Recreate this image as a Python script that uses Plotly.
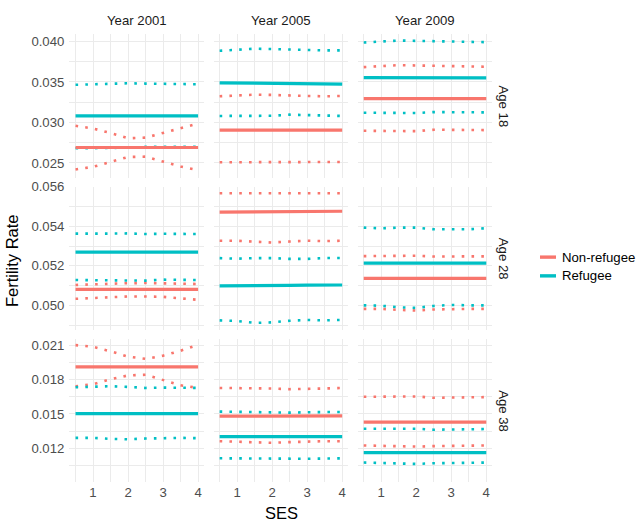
import plotly.graph_objects as go

# ---------------- data ----------------
ses = [0.5, 1.0, 1.5, 2.0, 2.5, 3.0, 3.5, 4.0]
years = ["Year 2001", "Year 2005", "Year 2009"]
ages = ["Age 18", "Age 28", "Age 38"]
groups = ["Non-refugee", "Refugee"]

# each variable: one list per year (2001, 2005, 2009), values at the SES points
a18_non_est = [
    [0.02690, 0.02690, 0.02690, 0.02690, 0.02690, 0.02690, 0.02690, 0.02690],
    [0.02905, 0.02905, 0.02905, 0.02905, 0.02905, 0.02905, 0.02905, 0.02905],
    [0.03294, 0.03294, 0.03294, 0.03294, 0.03294, 0.03294, 0.03294, 0.03294],
]
a18_non_lo = [
    [0.02419, 0.02451, 0.02512, 0.02573, 0.02577, 0.02512, 0.02455, 0.02410],
    [0.02508, 0.02510, 0.02508, 0.02515, 0.02513, 0.02510, 0.02510, 0.02510],
    [0.02897, 0.02895, 0.02890, 0.02892, 0.02910, 0.02906, 0.02906, 0.02905],
]
a18_non_hi = [
    [0.02958, 0.02925, 0.02869, 0.02804, 0.02812, 0.02873, 0.02934, 0.02986],
    [0.03323, 0.03335, 0.03343, 0.03340, 0.03330, 0.03327, 0.03323, 0.03327],
    [0.03684, 0.03692, 0.03708, 0.03704, 0.03700, 0.03688, 0.03686, 0.03688],
]
a18_ref_est = [
    [0.03080, 0.03080, 0.03080, 0.03080, 0.03080, 0.03080, 0.03080, 0.03080],
    [0.03490, 0.03488, 0.03486, 0.03484, 0.03481, 0.03478, 0.03476, 0.03474],
    [0.03554, 0.03554, 0.03553, 0.03552, 0.03552, 0.03551, 0.03550, 0.03550],
]
a18_ref_lo = [
    [0.02680, 0.02680, 0.02682, 0.02688, 0.02698, 0.02700, 0.02700, 0.02698],
    [0.03080, 0.03080, 0.03076, 0.03082, 0.03096, 0.03088, 0.03080, 0.03080],
    [0.03120, 0.03120, 0.03112, 0.03116, 0.03128, 0.03128, 0.03128, 0.03124],
]
a18_ref_hi = [
    [0.03465, 0.03470, 0.03480, 0.03484, 0.03480, 0.03476, 0.03470, 0.03472],
    [0.03886, 0.03899, 0.03911, 0.03907, 0.03899, 0.03890, 0.03890, 0.03890],
    [0.03988, 0.03996, 0.04012, 0.04008, 0.04004, 0.03992, 0.03988, 0.03992],
]

a28_non_est = [
    [0.05081, 0.05081, 0.05081, 0.05081, 0.05081, 0.05081, 0.05081, 0.05081],
    [0.05472, 0.05472, 0.05473, 0.05474, 0.05474, 0.05475, 0.05476, 0.05476],
    [0.05136, 0.05136, 0.05136, 0.05136, 0.05136, 0.05136, 0.05136, 0.05136],
]
a28_non_lo = [
    [0.05033, 0.05037, 0.05043, 0.05045, 0.05045, 0.05043, 0.05035, 0.05028],
    [0.05327, 0.05327, 0.05322, 0.05318, 0.05323, 0.05327, 0.05325, 0.05327],
    [0.04982, 0.04982, 0.04977, 0.04974, 0.04979, 0.04982, 0.04982, 0.04982],
]
a28_non_hi = [
    [0.05103, 0.05107, 0.05111, 0.05112, 0.05113, 0.05112, 0.05110, 0.05108],
    [0.05567, 0.05567, 0.05569, 0.05568, 0.05566, 0.05566, 0.05566, 0.05567],
    [0.05249, 0.05250, 0.05251, 0.05251, 0.05247, 0.05248, 0.05248, 0.05248],
]
a28_ref_est = [
    [0.05269, 0.05269, 0.05269, 0.05269, 0.05269, 0.05269, 0.05269, 0.05269],
    [0.05098, 0.05098, 0.05099, 0.05100, 0.05101, 0.05102, 0.05103, 0.05103],
    [0.05214, 0.05214, 0.05214, 0.05214, 0.05214, 0.05214, 0.05214, 0.05214],
]
a28_ref_lo = [
    [0.05128, 0.05128, 0.05125, 0.05125, 0.05125, 0.05130, 0.05128, 0.05128],
    [0.04924, 0.04921, 0.04911, 0.04914, 0.04922, 0.04926, 0.04924, 0.04926],
    [0.05000, 0.04998, 0.04990, 0.04987, 0.04997, 0.05002, 0.05000, 0.05000],
]
a28_ref_hi = [
    [0.05363, 0.05362, 0.05363, 0.05364, 0.05361, 0.05362, 0.05362, 0.05361],
    [0.05239, 0.05236, 0.05239, 0.05239, 0.05235, 0.05235, 0.05239, 0.05240],
    [0.05393, 0.05390, 0.05393, 0.05393, 0.05385, 0.05385, 0.05385, 0.05390],
]

a38_non_est = [
    [0.01911, 0.01911, 0.01911, 0.01911, 0.01911, 0.01911, 0.01911, 0.01911],
    [0.01481, 0.01481, 0.01482, 0.01482, 0.01483, 0.01483, 0.01484, 0.01484],
    [0.01429, 0.01429, 0.01429, 0.01429, 0.01429, 0.01429, 0.01429, 0.01429],
]
a38_non_lo = [
    [0.01742, 0.01759, 0.01802, 0.01836, 0.01842, 0.01793, 0.01750, 0.01727],
    [0.01263, 0.01260, 0.01252, 0.01249, 0.01255, 0.01260, 0.01263, 0.01263],
    [0.01226, 0.01223, 0.01217, 0.01216, 0.01220, 0.01223, 0.01225, 0.01226],
]
a38_non_hi = [
    [0.02100, 0.02086, 0.02046, 0.02000, 0.01980, 0.02008, 0.02051, 0.02103],
    [0.01727, 0.01725, 0.01727, 0.01722, 0.01716, 0.01722, 0.01722, 0.01727],
    [0.01650, 0.01650, 0.01653, 0.01653, 0.01641, 0.01644, 0.01643, 0.01647],
]
a38_ref_est = [
    [0.01504, 0.01504, 0.01504, 0.01504, 0.01504, 0.01504, 0.01504, 0.01504],
    [0.01303, 0.01303, 0.01303, 0.01303, 0.01303, 0.01303, 0.01303, 0.01303],
    [0.01163, 0.01163, 0.01163, 0.01163, 0.01163, 0.01163, 0.01163, 0.01163],
]
a38_ref_lo = [
    [0.01292, 0.01292, 0.01283, 0.01280, 0.01286, 0.01292, 0.01292, 0.01289],
    [0.01114, 0.01113, 0.01107, 0.01106, 0.01109, 0.01110, 0.01112, 0.01114],
    [0.01077, 0.01074, 0.01068, 0.01065, 0.01071, 0.01075, 0.01077, 0.01077],
]
a38_ref_hi = [
    [0.01733, 0.01736, 0.01742, 0.01736, 0.01727, 0.01730, 0.01730, 0.01727],
    [0.01521, 0.01518, 0.01521, 0.01518, 0.01512, 0.01515, 0.01515, 0.01518],
    [0.01372, 0.01372, 0.01375, 0.01372, 0.01363, 0.01363, 0.01366, 0.01369],
]

x_ticks = [1, 2, 3, 4]
x_minor = [0.5, 1.5, 2.5, 3.5]
y_ticks = [
    [0.025, 0.030, 0.035, 0.040],
    [0.050, 0.052, 0.054, 0.056],
    [0.012, 0.015, 0.018, 0.021],
]
y_minor = [
    [0.0275, 0.0325, 0.0375],
    [0.049, 0.051, 0.053, 0.055],
    [0.0105, 0.0135, 0.0165, 0.0195],
]

# ---------------- layout constants (page pixels) ----------------
W, H = 638, 525
COLORS = {"Non-refugee": "#F8766D", "Refugee": "#00BFC4"}
FONT = "Liberation Sans, Arial, Helvetica, sans-serif"
col_px = [(69.4, 204.2), (213.5, 348.3), (357.6, 492.4)]
row_px = [(27.6, 173.0), (182.0, 327.4), (336.4, 481.8)]
x_range = [0.325, 4.175]
y_range = [[0.02317, 0.04090], [0.04875, 0.05601], [0.009043, 0.02154]]
GRID = "#EBEBEB"


def px_x(p):
    return p / W


def px_y(p):
    return 1 - p / H


panels = {
    0: {"Non-refugee": (a18_non_est, a18_non_lo, a18_non_hi), "Refugee": (a18_ref_est, a18_ref_lo, a18_ref_hi)},
    1: {"Non-refugee": (a28_non_est, a28_non_lo, a28_non_hi), "Refugee": (a28_ref_est, a28_ref_lo, a28_ref_hi)},
    2: {"Non-refugee": (a38_non_est, a38_non_lo, a38_non_hi), "Refugee": (a38_ref_est, a38_ref_lo, a38_ref_hi)},
}

fig = go.Figure()
layout = {}
for r in range(3):
    for c in range(3):
        k = r * 3 + c + 1
        xs = "" if k == 1 else str(k)
        x0, x1 = col_px[c]
        y0, y1 = row_px[r]
        layout["xaxis" + xs] = dict(
            domain=[px_x(x0), px_x(x1)], range=x_range, anchor="y" + xs,
            tickvals=x_ticks, showticklabels=(r == 2), ticks="",
            showgrid=True, gridcolor=GRID, gridwidth=1.4, zeroline=False, showline=False,
            minor=dict(tickvals=x_minor, showgrid=True, gridcolor=GRID, gridwidth=0.8),
            tickfont=dict(family=FONT, size=13.2, color="#4D4D4D"),
            fixedrange=True,
        )
        layout["yaxis" + xs] = dict(
            domain=[px_y(y1), px_y(y0)], range=y_range[r], anchor="x" + xs,
            tickvals=y_ticks[r], tickformat=".3f", showticklabels=(c == 0), ticks="",
            ticklabelstandoff=4,
            showgrid=True, gridcolor=GRID, gridwidth=1.4, zeroline=False, showline=False,
            minor=dict(tickvals=y_minor[r], showgrid=True, gridcolor=GRID, gridwidth=0.8),
            tickfont=dict(family=FONT, size=13.2, color="#4D4D4D"),
            fixedrange=True,
        )
        for g in groups:
            est, lo, hi = panels[r][g]
            for series in (lo, hi):
                fig.add_trace(go.Scatter(
                    x=ses, y=series[c], mode="lines", xaxis="x" + xs, yaxis="y" + xs,
                    line=dict(color=COLORS[g], width=2.6, dash="2.6px,7.2px"),
                    showlegend=False, legendgroup=g, hoverinfo="skip",
                ))
        for g in groups:
            est, lo, hi = panels[r][g]
            fig.add_trace(go.Scatter(
                x=ses, y=est[c], mode="lines", xaxis="x" + xs, yaxis="y" + xs,
                line=dict(color=COLORS[g], width=3.2), name=g,
                showlegend=False, legendgroup=g,
            ))

annotations = []
shapes = []
for c, yr in enumerate(years):
    annotations.append(dict(
        text=yr, x=px_x((col_px[c][0] + col_px[c][1]) / 2), y=px_y(14),
        xref="paper", yref="paper", showarrow=False, xanchor="center", yanchor="middle",
        font=dict(family=FONT, size=13.2, color="#1A1A1A"),
    ))
for r, ag in enumerate(ages):
    annotations.append(dict(
        text=ag, x=px_x(503.5), y=px_y((row_px[r][0] + row_px[r][1]) / 2),
        xref="paper", yref="paper", showarrow=False, xanchor="center", yanchor="middle",
        textangle=90, font=dict(family=FONT, size=13.2, color="#1A1A1A"),
    ))
annotations.append(dict(
    text="Fertility Rate", x=px_x(11.5), y=px_y(257), xref="paper", yref="paper",
    showarrow=False, xanchor="center", yanchor="middle", textangle=-90,
    font=dict(family=FONT, size=16.5, color="#000000"),
))
annotations.append(dict(
    text="SES", x=px_x(281), y=px_y(513), xref="paper", yref="paper",
    showarrow=False, xanchor="center", yanchor="middle",
    font=dict(family=FONT, size=16.5, color="#000000"),
))

# legend (ggplot-style keys)
legend_y = [253.5, 272.5]
for g, ly in zip(groups, legend_y):
    shapes.append(dict(
        type="line", xref="paper", yref="paper",
        x0=px_x(540), x1=px_x(556), y0=px_y(ly), y1=px_y(ly),
        line=dict(color=COLORS[g], width=3.4),
    ))
    annotations.append(dict(
        text=g, x=px_x(559.5), y=px_y(ly), xref="paper", yref="paper",
        showarrow=False, xanchor="left", yanchor="middle",
        font=dict(family=FONT, size=13.2, color="#000000"),
    ))

fig.update_layout(
    width=W, height=H, margin=dict(l=0, r=0, t=0, b=0),
    paper_bgcolor="white", plot_bgcolor="white",
    annotations=annotations, shapes=shapes,
    showlegend=False, hovermode=False,
    **layout,
)

# remove the default 8px page margin so the figure sits at the window origin
fig.write_html(
    "out.html",
    config={"displayModeBar": False, "staticPlot": False},
    post_script="document.body.style.margin='0';document.body.style.overflow='hidden';",
)
